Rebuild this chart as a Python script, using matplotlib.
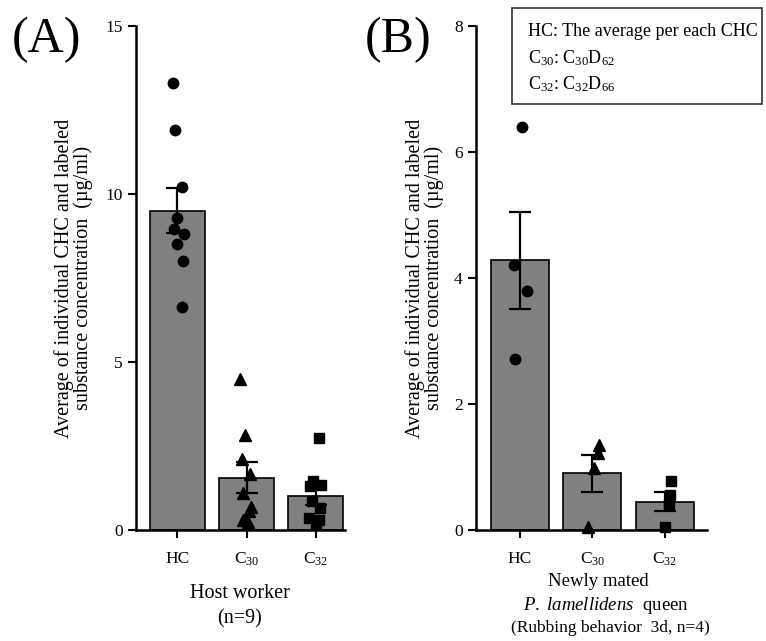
import numpy as np
import matplotlib
matplotlib.use('Agg')
import matplotlib.pyplot as plt
from matplotlib.patches import Rectangle

plt.rcParams['font.family'] = ['Liberation Serif', 'DejaVu Serif']
plt.rcParams['mathtext.fontset'] = 'custom'
plt.rcParams['mathtext.rm'] = 'Liberation Serif'
plt.rcParams['mathtext.it'] = 'Liberation Serif:italic'

groups = ['HC', 'C$_{30}$', 'C$_{32}$']

# (A) host workers, n=9 (ug/ml)
worker_hc = [13.3, 11.9, 10.2, 9.3, 8.95, 8.8, 8.5, 8.0, 6.65]
worker_c30 = [4.5, 2.82, 2.12, 1.68, 1.11, 0.69, 0.57, 0.3, 0.25]
worker_c32 = [2.75, 1.45, 1.35, 1.3, 0.85, 0.65, 0.35, 0.3, 0.2]

# (B) newly mated queens after 3 days of rubbing, n=4
queen_hc = [6.4, 4.2, 3.8, 2.72]
queen_c30 = [1.35, 1.22, 0.98, 0.05]
queen_c32 = [0.78, 0.55, 0.42, 0.05]

# horizontal scatter of the individual points
worker_jit = [[-0.07, -0.04, 0.06, -0.01, -0.05, 0.09, 0.0, 0.08, 0.06],
              [-0.09, -0.02, -0.06, 0.05, -0.05, 0.07, 0.03, -0.05, 0.02],
              [0.05, -0.04, 0.07, -0.08, -0.05, 0.06, -0.1, 0.05, 0.0]]
queen_jit = [[0.04, -0.08, 0.1, -0.06],
             [0.09, 0.08, 0.03, -0.06],
             [0.08, 0.07, 0.06, 0.0]]

markers = ['o', '^', 's']
msizes = [7.5, 8.5, 7.5]


def draw_panel(ax, data, jit, ymax, yticks, xmax):
    x = np.arange(len(data))
    means = [np.mean(d) for d in data]
    sems = [np.std(d, ddof=1) / np.sqrt(len(d)) for d in data]
    ax.bar(x, means, width=0.8, color='#808080', edgecolor='black', linewidth=1.2, zorder=1)
    ax.errorbar(x, means, yerr=sems, fmt='none', ecolor='black', elinewidth=1.6,
                capsize=8, capthick=1.6, zorder=2)
    for i, d in enumerate(data):
        ax.plot(x[i] + np.array(jit[i]), d, linestyle='none', marker=markers[i],
                markersize=msizes[i], color='black', zorder=3, clip_on=False)
    ax.set_xlim(-0.6, xmax)
    ax.set_ylim(0, ymax)
    ax.set_yticks(yticks)
    ax.set_xticks(x)
    ax.set_xticklabels(groups)
    for s in ['top', 'right']:
        ax.spines[s].set_visible(False)
    for s in ['left', 'bottom']:
        ax.spines[s].set_linewidth(1.8)
    ax.tick_params(axis='both', direction='out', length=6, width=1.5, labelsize=12.5)
    ax.tick_params(axis='x', pad=9)
    ax.set_ylabel('Average of individual CHC and labeled\nsubstance concentration  (\u00b5g/ml)',
                  fontsize=14.5, linespacing=0.95)


fig = plt.figure(figsize=(7.66, 6.41), dpi=100)

axA = fig.add_axes([0.1775, 0.1732, 0.2725, 0.786])
draw_panel(axA, [worker_hc, worker_c30, worker_c32], worker_jit, 15, [0, 5, 10, 15], 2.42)
axA.yaxis.set_label_coords(-0.205, 0.5)

axB = fig.add_axes([0.6214, 0.1732, 0.3016, 0.786])
draw_panel(axB, [queen_hc, queen_c30, queen_c32], queen_jit, 8, [0, 2, 4, 6, 8], 2.58)
axB.yaxis.set_label_coords(-0.139, 0.5)

fig.text(47 / 766, 1 - 40 / 641, '(A)', fontsize=36, ha='center', va='center')
fig.text(398 / 766, 1 - 40 / 641, '(B)', fontsize=36, ha='center', va='center')

# group descriptions under the axes
fig.text(240 / 766, 1 - 593 / 641, 'Host worker', fontsize=14.5, ha='center', va='center')
fig.text(240 / 766, 1 - 619 / 641, '(n=9)', fontsize=14.5, ha='center', va='center')
fig.text(598 / 766, 1 - 581 / 641, 'Newly mated', fontsize=13.5, ha='center', va='center')
fig.text(606 / 766, 1 - 605 / 641, r'$\it{P.\ lamellidens}$  queen', fontsize=13.5, ha='center', va='center')
fig.text(610 / 766, 1 - 628 / 641, '(Rubbing behavior  3d, n=4)', fontsize=12.5, ha='center', va='center')

# abbreviation key
fig.patches.append(Rectangle((512 / 766, 1 - 104 / 641), 250 / 766, 96 / 641,
                             transform=fig.transFigure, facecolor='white',
                             edgecolor='#333333', linewidth=1.2))
fig.text(528 / 766, 1 - 32 / 641, 'HC: The average per each CHC', fontsize=13, va='center')
fig.text(528 / 766, 1 - 58 / 641, 'C$_{30}$: C$_{30}$D$_{62}$', fontsize=13, va='center')
fig.text(528 / 766, 1 - 84 / 641, 'C$_{32}$: C$_{32}$D$_{66}$', fontsize=13, va='center')

fig.savefig('out.png', dpi=100)
